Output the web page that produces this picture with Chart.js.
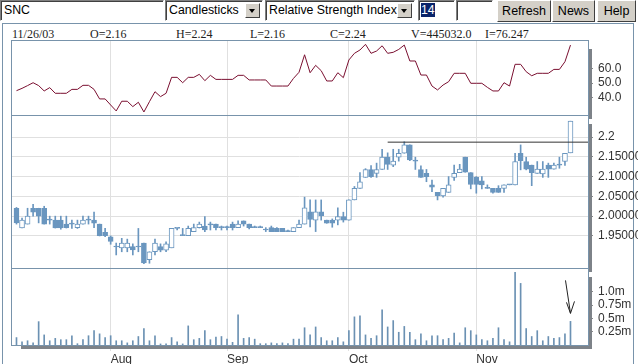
<!DOCTYPE html>
<html>
<head>
<meta charset="utf-8">
<title>SNC</title>
<script src="https://cdn.jsdelivr.net/npm/chart.js@4.4.0/dist/chart.umd.min.js"></script>
<style>
  body {
    margin: 0;
    width: 638px;
    height: 364px;
    overflow: hidden;
    position: relative;
    background: #fff;
    font-family: Arial, "Liberation Sans", sans-serif;
  }
  .field {
    position: absolute;
    top: 0;
    height: 21px;
    box-sizing: border-box;
    background: #fff;
    border: 1px solid;
    border-color: #808080 #fff #fff #808080;
    box-shadow: inset 1px 1px 0 #404040;
    font-size: 12.3px;
    line-height: 19px;
    padding-left: 3px;
    color: #000;
    white-space: nowrap;
    overflow: hidden;
  }
  .arrow {
    position: absolute;
    top: 2px;
    right: 2px;
    width: 15px;
    height: 15px;
    background: #d4d0c8;
    border: 1px solid;
    border-color: #fff #404040 #404040 #fff;
    box-sizing: border-box;
  }
  .arrow:after {
    content: "";
    position: absolute;
    left: 3px;
    top: 5px;
    border-left: 3.5px solid transparent;
    border-right: 3.5px solid transparent;
    border-top: 4px solid #000;
  }
  .btn {
    position: absolute;
    top: 0;
    height: 22px;
    box-sizing: border-box;
    background: #d4d0c8;
    border: 1px solid;
    border-color: #fff #404040 #404040 #fff;
    font-size: 12.5px;
    line-height: 20px;
    text-align: center;
    color: #000;
  }
  #frame {
    position: absolute;
    left: 2px;
    top: 23px;
    width: 632px;
    height: 345px;
    border: 1px solid #7893ab;
    box-sizing: border-box;
  }
  .info {
    position: absolute;
    top: 27px;
    font-family: "Times New Roman", "Liberation Serif", serif;
    font-size: 12px;
    color: #222;
  }
  #wrap {
    position: absolute;
    left: 0;
    top: 40px;
    width: 660px;
    height: 324px;
  }
</style>
</head>
<body>
  <div class="field" style="left:0;width:164px;">SNC</div>
  <div class="field" style="left:165px;width:98px;">Candlesticks<div class="arrow"></div></div>
  <div class="field" style="left:265px;width:150px;">Relative Strength Index<div class="arrow"></div></div>
  <div class="field" style="left:418px;width:37px;padding-left:2px;"><span style="background:#0a246a;color:#fff;">14</span></div>
  <div class="field" style="left:456px;width:37px;"></div>
  <div class="btn" style="left:497px;width:54px;">Refresh</div>
  <div class="btn" style="left:552px;width:43px;">News</div>
  <div class="btn" style="left:597px;width:39px;">Help</div>

  <div id="frame"></div>
  <div class="info" style="left:12px;">11/26/03</div>
  <div class="info" style="left:90px;">O=2.16</div>
  <div class="info" style="left:176px;">H=2.24</div>
  <div class="info" style="left:250px;">L=2.16</div>
  <div class="info" style="left:330px;">C=2.24</div>
  <div class="info" style="left:411px;">V=445032.0</div>
  <div class="info" style="left:485px;">I=76.247</div>

  <div id="wrap"><canvas id="chart"></canvas></div>

<script>
// daily bars, 8 Jul 2003 .. 26 Nov 2003 (index = trading day)
var opens = [2.02,1.97,1.98,2.02,2.02,2.02,1.99,1.99,1.99,1.98,1.98,1.971,1.98,1.99,1.99,1.98,1.959,1.948,1.922,1.92,
  1.92,1.923,1.922,1.932,1.89,1.91,1.923,1.914,1.92,1.969,1.951,1.951,1.961,1.971,1.975,1.978,1.98,1.971,1.971,1.98,
  1.971,1.988,1.98,1.971,1.971,1.965,1.971,1.969,1.969,1.961,1.961,1.971,1.98,2.011,1.99,2.011,1.99,1.99,1.99,1.999,
  1.99,2.041,2.07,2.098,2.118,2.108,2.118,2.149,2.129,2.149,2.159,2.18,2.139,2.118,2.108,2.079,2.06,2.051,2.06,2.098,
  2.11,2.149,2.11,2.098,2.089,2.07,2.07,2.07,2.07,2.079,2.079,2.159,2.138,2.129,2.108,2.107,2.129,2.119,2.129,2.138,2.16];
var highs = [2.022,1.995,2.02,2.03,2.02,2.025,2.0,2.0,2.0,2.0,1.99,1.99,2.0,2.0,2.01,1.98,1.969,1.95,1.932,1.944,
  1.942,1.93,1.969,1.932,1.91,1.942,1.93,1.935,1.969,1.969,1.969,1.975,1.98,1.985,1.999,1.985,1.98,1.975,1.975,1.985,
  1.988,1.988,1.98,1.975,1.975,1.971,1.975,1.971,1.969,1.965,1.971,1.99,2.048,2.041,2.041,2.041,1.99,1.993,2.021,2.01,
  2.041,2.075,2.11,2.12,2.128,2.134,2.169,2.16,2.169,2.169,2.188,2.18,2.149,2.127,2.118,2.091,2.06,2.07,2.1,2.129,
  2.131,2.149,2.11,2.1,2.1,2.079,2.07,2.077,2.079,2.079,2.159,2.18,2.149,2.129,2.138,2.138,2.134,2.134,2.149,2.159,2.24];
var lows = [1.98,1.97,1.98,2.0,1.983,1.98,1.98,1.97,1.967,1.97,1.969,1.969,1.98,1.98,1.971,1.95,1.948,1.929,1.902,1.91,
  1.91,1.902,1.91,1.88,1.881,1.902,1.91,1.91,1.92,1.965,1.951,1.951,1.961,1.97,1.961,1.965,1.965,1.965,1.965,1.965,
  1.971,1.975,1.968,1.971,1.971,1.961,1.961,1.961,1.961,1.961,1.961,1.971,1.98,1.973,1.961,1.99,1.982,1.972,1.978,1.985,
  1.99,2.041,2.07,2.098,2.098,2.098,2.118,2.118,2.125,2.139,2.159,2.14,2.118,2.098,2.087,2.062,2.041,2.048,2.06,2.09,
  2.11,2.111,2.069,2.058,2.069,2.07,2.058,2.06,2.06,2.079,2.079,2.117,2.117,2.077,2.108,2.098,2.098,2.119,2.121,2.128,2.16];
var closes = [1.983,1.99,2.0,2.01,2.0,1.98,1.99,1.97,1.97,1.971,1.98,1.98,1.99,1.99,1.982,1.951,1.951,1.936,1.922,1.932,
  1.932,1.915,1.922,1.882,1.91,1.932,1.914,1.93,1.969,1.969,1.951,1.969,1.971,1.98,1.965,1.978,1.971,1.971,1.971,1.971,
  1.98,1.98,1.971,1.971,1.971,1.965,1.961,1.961,1.961,1.961,1.971,1.98,2.021,1.992,2.011,2.001,1.982,1.982,1.999,1.99,
  2.041,2.07,2.087,2.118,2.1,2.118,2.149,2.131,2.139,2.159,2.18,2.142,2.139,2.098,2.1,2.073,2.052,2.07,2.079,2.108,
  2.119,2.111,2.08,2.08,2.079,2.07,2.06,2.06,2.079,2.079,2.138,2.14,2.119,2.11,2.119,2.119,2.119,2.129,2.129,2.159,2.24];
var rsi = [44.7,46.3,48.2,50.2,48.2,44.5,46.8,42.9,42.9,42.9,45.6,45.6,48.4,48.4,45.6,39.0,39.0,34.8,30.7,37.4,
  37.4,33.7,36.7,30.0,37.1,44.0,40.6,42.9,53.9,53.9,50.2,53.9,53.9,56.0,51.6,55.3,52.5,52.5,52.5,52.5,
  55.3,55.3,52.1,52.1,52.1,52.1,47.9,47.9,47.9,47.9,53.2,57.4,69.5,57.1,62.2,58.5,51.4,51.4,57.1,53.7,
  65.9,70.5,72.8,76.7,70.5,72.1,75.7,70.5,71.2,73.2,76.2,65.2,65.2,55.5,55.5,47.9,45.2,48.6,50.9,56.7,
  56.7,56.7,49.8,49.8,49.8,47.0,44.5,44.5,50.2,47.9,62.9,62.9,57.8,55.0,56.7,56.7,56.7,59.4,59.4,64.7,76.2];
// volume in millions
var volume = [0.14,0.06,0.08,0.04,0.44,0.19,0.08,0.125,0.10,0.10,0.175,0.025,0.10,0.175,0.27,0.21,0.14,0.175,0.08,0.08,
  0.04,0.08,0.16,0.31,0.08,0.175,0.02,0.02,0.14,0.06,0.02,0.36,0.10,0.125,0.27,0.10,0.15,0.16,0.11,0.05,
  0.57,0.125,0.14,0.11,0.025,0.025,0.04,0.025,0.04,0.025,0.11,0.11,0.325,0.19,0.34,0.14,0.08,0.08,0.14,0.06,
  0.27,0.53,0.55,0.19,0.125,0.175,0.66,0.34,0.46,0.24,0.35,0.24,0.10,0.21,0.08,0.175,0.175,0.10,0.125,0.225,
  0.04,0.325,0.27,0.19,0.10,0.08,0.125,0.325,0.10,0.06,1.37,1.16,0.31,0.16,0.27,0.08,0.16,0.125,0.14,0.21,0.445];

var monthPos = [17, 38, 60, 83];
var monthLabels = ['Aug', 'Sep', 'Oct', 'Nov'];
var rsiTicks = [40, 50, 60];
var rsiLabels = ['40.0', '50.0', '60.0'];
var priceTicks = [1.95, 2.0, 2.05, 2.1, 2.15, 2.2];
var priceLabels = ['1.95000', '2.00000', '2.05000', '2.10000', '2.15000', '2.2'];
var volTicks = [0.25, 0.5, 0.75, 1.0];
var volLabels = ['0.25m', '0.5m', '0.75m', '1.0m'];
var resistanceLevel = 2.187;
var resistanceFrom = 67;

var blue = '#6a96bf';
var frameColor = '#7893ab';
var gridColor = '#e0e0e0';

Chart.defaults.font.family = 'Arial, "Liberation Sans", sans-serif';
Chart.defaults.font.size = 12;
Chart.defaults.color = '#333';

function fixedWidth(scale) {
  scale.width = 72;
  scale.paddingTop = 0;
  scale.paddingBottom = 0;
}
function setTicks(list) {
  return function (scale) { scale.ticks = list.map(function (v) { return {value: v}; }); };
}
function labelOf(values, labels) {
  return function (v) { var k = values.indexOf(v); return k < 0 ? '' : labels[k]; };
}

var xMin = -0.99, xMax = 103.16;

var panelFrame = {
  id: 'panelFrame',
  afterDraw: function (chart) {
    var ctx = chart.ctx, a = chart.chartArea;
    ctx.save();
    ['rsi', 'price', 'vol'].forEach(function (id) {
      var s = chart.scales[id];
      ctx.fillStyle = '#7d8288';
      ctx.fillRect(a.right + 1, s.top + 9, 3, s.bottom - s.top - 5);
    });
    ctx.fillRect(a.left + 10, a.bottom + 1, a.right - a.left - 6, 3);
    ctx.strokeStyle = frameColor;
    ctx.lineWidth = 1;
    ['rsi', 'price', 'vol'].forEach(function (id) {
      var s = chart.scales[id];
      ctx.strokeRect(Math.round(a.left) + 0.5, Math.round(s.top) + 0.5,
        Math.round(a.right - a.left), Math.round(s.bottom - s.top));
    });
    // hand drawn arrow pointing at the last volume bar
    var last = volume.length - 1;
    var px = chart.scales.x.getPixelForValue(last);
    var top = chart.scales.vol.getPixelForValue(volume[last]);
    ctx.strokeStyle = '#222';
    ctx.beginPath();
    ctx.moveTo(px - 5, top - 41);
    ctx.lineTo(px, top - 8);
    ctx.moveTo(px - 4, top - 19);
    ctx.lineTo(px, top - 8);
    ctx.lineTo(px + 4, top - 20);
    ctx.stroke();
    ctx.restore();
  }
};

new Chart(document.getElementById('chart'), {
  type: 'bar',
  data: {
    datasets: [
      {
        type: 'line',
        label: 'RSI',
        yAxisID: 'rsi',
        data: rsi.map(function (v, i) { return {x: i, y: v}; }),
        borderColor: '#7a0f30',
        borderWidth: 1,
        pointRadius: 0,
        tension: 0,
        order: 0
      },
      {
        type: 'line',
        label: 'Resistance',
        yAxisID: 'price',
        data: [{x: resistanceFrom, y: resistanceLevel}, {x: xMax, y: resistanceLevel}],
        borderColor: '#333',
        borderWidth: 1,
        pointRadius: 0,
        order: 0
      },
      {
        label: 'Body',
        yAxisID: 'price',
        data: opens.map(function (o, i) { return {x: i, y: [o, closes[i]]}; }),
        backgroundColor: opens.map(function (o, i) { return closes[i] > o ? '#fff' : blue; }),
        borderColor: blue,
        borderWidth: 1,
        borderSkipped: false,
        barThickness: 5,
        minBarLength: 1,
        grouped: false,
        order: 1
      },
      {
        label: 'Wick',
        yAxisID: 'price',
        data: lows.map(function (l, i) { return {x: i, y: [l, highs[i]]}; }),
        backgroundColor: blue,
        barThickness: 1,
        grouped: false,
        order: 2
      },
      {
        label: 'Volume',
        yAxisID: 'vol',
        data: volume.map(function (v, i) { return {x: i, y: v}; }),
        backgroundColor: '#6b91b3',
        barThickness: 1,
        grouped: false,
        order: 1
      }
    ]
  },
  options: {
    responsive: true,
    maintainAspectRatio: false,
    animation: false,
    layout: {padding: {left: 11, top: 0, right: 0, bottom: 0}},
    plugins: {legend: {display: false}, tooltip: {enabled: false}},
    scales: {
      x: {
        type: 'linear',
        min: xMin,
        max: xMax,
        offset: false,
        afterBuildTicks: setTicks(monthPos),
        afterFit: function (s) { s.height = 19; s.paddingLeft = 0; s.paddingRight = 0; },
        grid: {color: gridColor, tickLength: 6, offset: false},
        border: {display: false},
        ticks: {align: 'start', padding: 1, autoSkip: false, maxRotation: 0, callback: labelOf(monthPos, monthLabels)}
      },
      rsi: {
        type: 'linear',
        position: 'right',
        stack: 'panels',
        stackWeight: 75,
        min: 27.9,
        max: 79.7,
        afterBuildTicks: setTicks(rsiTicks),
        afterFit: fixedWidth,
        grid: {drawOnChartArea: false, tickLength: 5, tickColor: '#888'},
        border: {display: false},
        ticks: {padding: 5, autoSkip: false, callback: labelOf(rsiTicks, rsiLabels)}
      },
      price: {
        type: 'linear',
        position: 'right',
        stack: 'panels',
        stackWeight: 153,
        min: 1.869,
        max: 2.2556,
        afterBuildTicks: setTicks(priceTicks),
        afterFit: fixedWidth,
        grid: {color: gridColor, tickLength: 5, tickColor: '#888'},
        border: {display: false},
        ticks: {padding: 5, autoSkip: false, callback: labelOf(priceTicks, priceLabels)}
      },
      vol: {
        type: 'linear',
        position: 'right',
        stack: 'panels',
        stackWeight: 77,
        min: 0,
        max: 1.45,
        afterBuildTicks: setTicks(volTicks),
        afterFit: fixedWidth,
        grid: {drawOnChartArea: false, tickLength: 5, tickColor: '#888'},
        border: {display: false},
        ticks: {padding: 5, autoSkip: false, callback: labelOf(volTicks, volLabels)}
      }
    }
  },
  plugins: [panelFrame]
});
</script>
</body>
</html>
